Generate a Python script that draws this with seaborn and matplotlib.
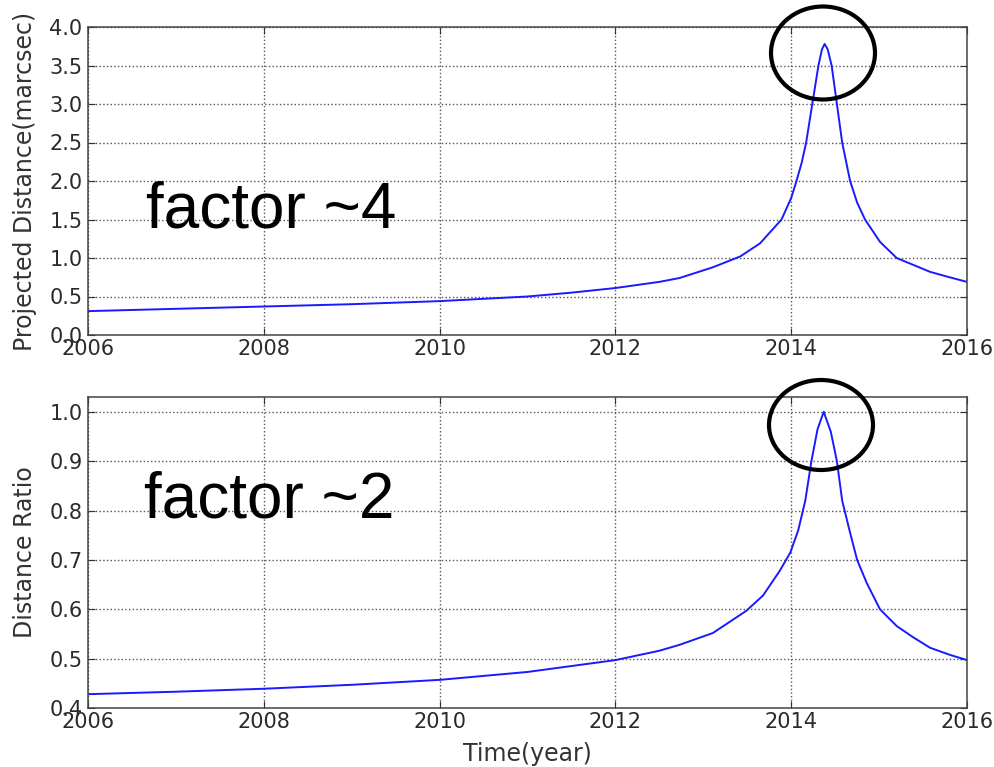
import numpy as np
import pandas as pd
import seaborn as sns
import matplotlib
matplotlib.use("Agg")
import matplotlib.pyplot as plt
from matplotlib.patches import Ellipse

# Projected separation (mas) versus time
time_top = [2006.0, 2007.0, 2008.0, 2009.0, 2010.0, 2010.5, 2011.0, 2011.5,
            2012.0, 2012.5, 2012.73, 2013.11, 2013.42, 2013.645, 2013.89,
            2014.0, 2014.06, 2014.12, 2014.17, 2014.24, 2014.31, 2014.35,
            2014.38, 2014.415, 2014.46, 2014.52, 2014.58, 2014.67, 2014.75,
            2014.84, 2015.01, 2015.20, 2015.39, 2015.58, 2015.8, 2016.0]
dist_top = [0.31, 0.34, 0.37, 0.40, 0.44, 0.47, 0.50, 0.55,
            0.61, 0.69, 0.74, 0.88, 1.02, 1.19, 1.50,
            1.78, 2.00, 2.24, 2.50, 3.00, 3.50, 3.71,
            3.78, 3.71, 3.50, 3.00, 2.50, 2.00, 1.72,
            1.50, 1.21, 1.00, 0.91, 0.82, 0.75, 0.69]

# Ratio of distances versus time
time_bot = [2006.0, 2007.0, 2008.0, 2009.0, 2010.0, 2011.0, 2012.0, 2012.5,
            2012.73, 2013.11, 2013.49, 2013.68, 2013.87, 2013.99, 2014.08,
            2014.16, 2014.23, 2014.30, 2014.37, 2014.45, 2014.52, 2014.58,
            2014.67, 2014.75, 2014.86, 2015.01, 2015.20, 2015.39, 2015.58,
            2015.8, 2016.0]
ratio_bot = [0.428, 0.433, 0.439, 0.447, 0.457, 0.473, 0.497, 0.516,
             0.528, 0.552, 0.597, 0.628, 0.678, 0.715, 0.760,
             0.820, 0.900, 0.965, 1.000, 0.960, 0.900, 0.820,
             0.755, 0.700, 0.653, 0.600, 0.566, 0.543, 0.522,
             0.508, 0.497]

x_ticks = [2006, 2008, 2010, 2012, 2014, 2016]
y_ticks_top = [0.0, 0.5, 1.0, 1.5, 2.0, 2.5, 3.0, 3.5, 4.0]
y_ticks_bot = [0.4, 0.5, 0.6, 0.7, 0.8, 0.9, 1.0]

sns.set_theme(style="white", rc={
    "xtick.direction": "in", "ytick.direction": "in",
    "xtick.top": True, "ytick.right": True,
    "xtick.bottom": True, "ytick.left": True,
    "xtick.major.size": 5, "ytick.major.size": 5,
    "xtick.major.width": 0.8, "ytick.major.width": 0.8,
    "xtick.major.pad": 3, "ytick.major.pad": 4,
    "xtick.color": "#333333", "ytick.color": "#333333",
    "axes.edgecolor": "#444444", "axes.linewidth": 1.1,
})
plt.rcParams["font.family"] = ["DejaVu Sans"]

W, H = 995, 767
fig = plt.figure(figsize=(W / 100, H / 100), dpi=100)
ax1 = fig.add_axes([88 / W, 1 - 335 / H, 879 / W, 308 / H])
ax2 = fig.add_axes([88 / W, 1 - 708 / H, 879 / W, 311 / H])

df_top = pd.DataFrame({"t": time_top, "d": dist_top})
df_bot = pd.DataFrame({"t": time_bot, "r": ratio_bot})

sns.lineplot(data=df_top, x="t", y="d", ax=ax1, color="#1a1aff",
             linewidth=1.4, estimator=None)
sns.lineplot(data=df_bot, x="t", y="r", ax=ax2, color="#1a1aff",
             linewidth=1.4, estimator=None)

for ax, yt in ((ax1, y_ticks_top), (ax2, y_ticks_bot)):
    ax.set_xlim(2006, 2016)
    ax.set_xticks(x_ticks)
    ax.set_xticklabels([str(v) for v in x_ticks])
    ax.set_yticks(yt)
    ax.set_yticklabels([f"{v:.1f}" for v in yt])
    ax.tick_params(labelsize=15, labelcolor="#2a2a2a")
    ax.grid(True, linestyle=":", color="#555555", linewidth=1.0)
    ax.set_xlabel("")

ax1.set_ylim(0.0, 4.0)
ax2.set_ylim(0.4, 1.03)
ax1.set_ylabel("Projected Distance(marcsec)", fontsize=17, color="#333333",
               labelpad=9)
ax2.set_ylabel("Distance Ratio", fontsize=17, color="#333333", labelpad=9)
ax2.set_xlabel("Time(year)", fontsize=17, color="#333333", labelpad=7)

# Big annotations
fig.text(146 / W, 1 - 227 / H, "factor ~4", fontsize=46,
         family="Liberation Sans", color="black", ha="left", va="baseline")
fig.text(144 / W, 1 - 517 / H, "factor ~2", fontsize=46,
         family="Liberation Sans", color="black", ha="left", va="baseline")

# Circles highlighting the peaks
for cx, cy, ew, eh in ((823, 53, 104, 93), (821, 425, 104, 90)):
    fig.patches.append(Ellipse((cx / W, 1 - cy / H), ew / W, eh / H,
                               transform=fig.transFigure, fill=False,
                               edgecolor="black", linewidth=3.0,
                               clip_on=False))

fig.savefig("out.png", dpi=100)
